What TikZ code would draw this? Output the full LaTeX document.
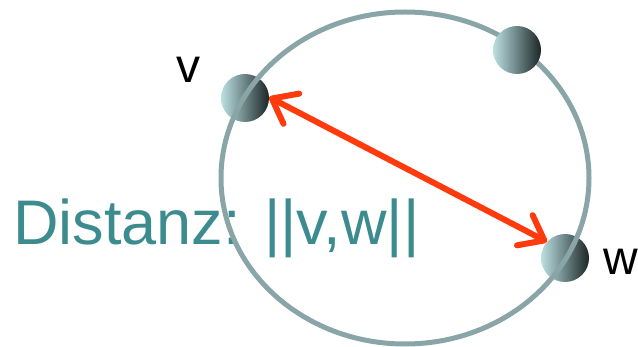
\documentclass[tikz,border=0pt]{standalone}
\usepackage{fontspec}
\setmainfont{Liberation Sans}
\usetikzlibrary{arrows.meta}
\definecolor{ringcol}{RGB}{138,165,167}
\definecolor{textteal}{RGB}{60,139,143}
\definecolor{arrred}{RGB}{255,58,12}
\definecolor{balllight}{RGB}{188,224,227}
\definecolor{ballmid}{RGB}{120,160,163}
\definecolor{balldark}{RGB}{28,38,38}
\tikzset{
  ball/.style={circle, minimum size=48pt, inner sep=0pt, shading=axis,
    left color=balllight, middle color=ballmid, right color=balldark, shading angle=90},
  ring/.style={draw=ringcol, line width=5pt},
  dist/.style={->, draw=arrred, line width=6pt, line cap=round, line join=round,
    {Straight Barb[length=22pt,width=34pt,line cap=round,line join=round]}-{Straight Barb[length=22pt,width=34pt,line cap=round,line join=round]}},
  lbl/.style={font=\fontsize{48}{48}\selectfont, inner sep=0pt, anchor=base west},
}
\begin{document}
\begin{tikzpicture}[x=1pt,y=-1pt]
\useasboundingbox (0,0) rectangle (638,347);
\node[inner sep=0pt, anchor=base west, text=textteal,
  font=\fontsize{63}{63}\selectfont] (t) at (13,245) {Distanz: ||v,w||};
\node[ball] (v) at (245,98) {};
\node[ball] (w) at (565,258) {};
\draw[ring] (405,178) ellipse [x radius=184pt, y radius=166pt];
\node[ball] (u) at (517,50) {};
\node[lbl] (lv) at (176,83) {v};
\node[lbl] (lw) at (603,275) {w};
\draw[dist] (v.2) -- (w.138);
\end{tikzpicture}
\end{document}
